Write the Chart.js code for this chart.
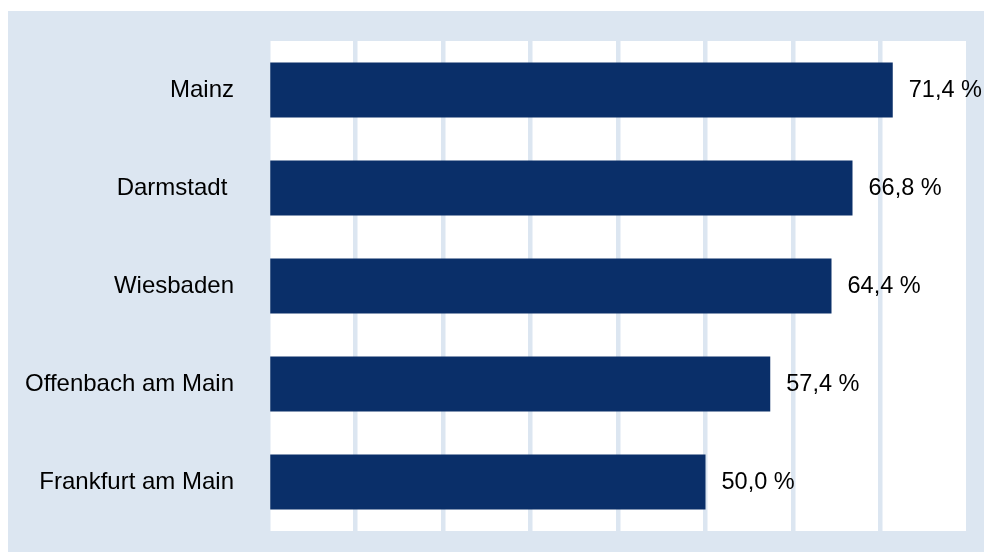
<!DOCTYPE html>
<html>
<head>
<meta charset="utf-8">
<script src="https://cdn.jsdelivr.net/npm/chart.js@4.4.1/dist/chart.umd.min.js"></script>
<style>
  html, body { margin: 0; padding: 0; background: #ffffff; }
  #panel {
    position: absolute;
    left: 8px;
    top: 11px;
    width: 976px;
    height: 541px;
    background: #dce6f1;
  }
</style>
</head>
<body>
<div id="panel"><canvas id="chart" width="976" height="541"></canvas></div>
<script>
// cities and their shares (percent)
const cities = ["Mainz", "Darmstadt ", "Wiesbaden", "Offenbach am Main", "Frankfurt am Main"];
const shares = [71.4, 66.8, 64.4, 57.4, 50.0];
const xTicks = [0, 10, 20, 30, 40, 50, 60, 70, 80];

const panelColor = "#dce6f1";
const barColor = "#0a2f69";
const fontFamily = "'Liberation Sans', Arial, sans-serif";

// white plot area behind the grid
const plotBackground = {
  id: "plotBackground",
  beforeDraw(chart) {
    const { ctx, chartArea } = chart;
    ctx.save();
    ctx.fillStyle = "#ffffff";
    ctx.fillRect(chartArea.left + 2, chartArea.top, chartArea.right - chartArea.left - 3, chartArea.bottom - chartArea.top);
    ctx.restore();
  },
};

// "71,4 %" style labels next to each bar
const valueLabels = {
  id: "valueLabels",
  afterDatasetsDraw(chart) {
    const { ctx } = chart;
    const meta = chart.getDatasetMeta(0);
    ctx.save();
    ctx.font = "23.5px " + fontFamily;
    ctx.fillStyle = "#000000";
    ctx.textAlign = "left";
    ctx.textBaseline = "middle";
    meta.data.forEach((bar, i) => {
      const text = shares[i].toFixed(1).replace(".", ",") + " %";
      ctx.fillText(text, bar.x + 16, bar.y + 1);
    });
    ctx.restore();
  },
};

new Chart(document.getElementById("chart"), {
  type: "bar",
  data: {
    labels: cities,
    datasets: [
      {
        data: shares,
        backgroundColor: barColor,
        barPercentage: 0.56,
        categoryPercentage: 1.0,
      },
    ],
  },
  options: {
    indexAxis: "y",
    responsive: false,
    animation: false,
    layout: { padding: { top: 30, right: 16, bottom: 21, left: 0 } },
    plugins: {
      legend: { display: false },
      tooltip: { enabled: false },
    },
    scales: {
      x: {
        min: 0,
        max: 80,
        afterBuildTicks(scale) {
          scale.ticks = xTicks.map((v) => ({ value: v }));
        },
        afterFit(scale) {
          scale.height = 0;
          scale.paddingLeft = 0;
          scale.paddingRight = 0;
        },
        ticks: { display: false },
        border: { display: false },
        grid: {
          color: panelColor,
          lineWidth: 4.5,
          drawTicks: false,
        },
      },
      y: {
        afterFit(scale) {
          scale.width = 260;
          scale.paddingTop = 0;
          scale.paddingBottom = 0;
        },
        border: { display: false },
        grid: { display: false, drawTicks: false },
        ticks: {
          padding: 34,
          color: "#000000",
          font: { family: fontFamily, size: 24 },
        },
      },
    },
  },
  plugins: [plotBackground, valueLabels],
});
</script>
</body>
</html>
